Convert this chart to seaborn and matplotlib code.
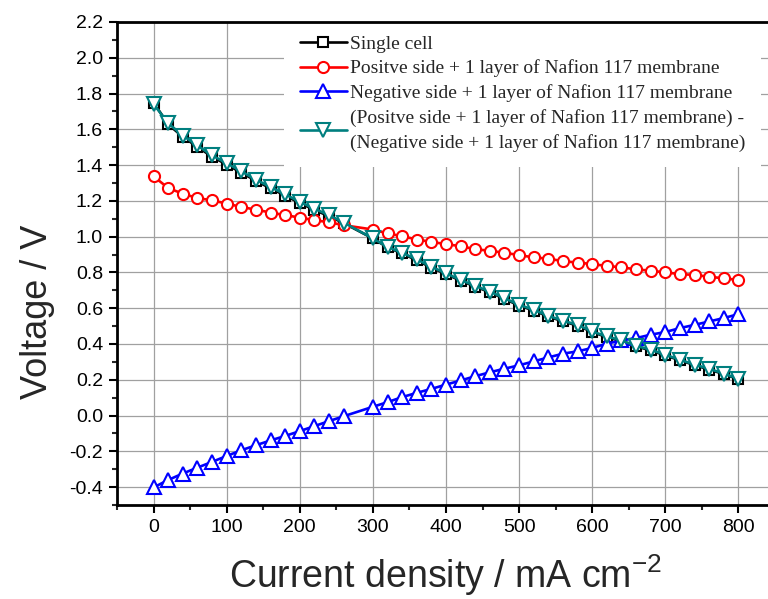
import matplotlib
matplotlib.use("Agg")
import matplotlib.pyplot as plt
import seaborn as sns
import pandas as pd
from matplotlib.ticker import MultipleLocator, FormatStrFormatter
from matplotlib import font_manager

# ---------------- data ----------------
current = [0, 20, 40, 60, 80, 100, 120, 140, 160, 180, 200, 220, 240, 260,
           300, 320, 340, 360, 380, 400, 420, 440, 460, 480, 500, 520, 540, 560,
           580, 600, 620, 640, 660, 680, 700, 720, 740, 760, 780, 800]

single_cell = [1.750, 1.628, 1.558, 1.502, 1.447, 1.403, 1.358, 1.312, 1.270, 1.230,
               1.188, 1.150, 1.114, 1.076, 0.990, 0.940, 0.906, 0.868, 0.827, 0.791,
               0.754, 0.721, 0.689, 0.652, 0.615, 0.587, 0.554, 0.526, 0.503, 0.467,
               0.438, 0.416, 0.387, 0.364, 0.336, 0.309, 0.282, 0.257, 0.232, 0.203]

positive_side = [1.337, 1.272, 1.240, 1.216, 1.203, 1.185, 1.166, 1.151, 1.135, 1.120,
                 1.107, 1.092, 1.081, 1.064, 1.040, 1.018, 1.003, 0.984, 0.971, 0.958,
                 0.947, 0.930, 0.921, 0.910, 0.897, 0.884, 0.877, 0.863, 0.855, 0.847,
                 0.836, 0.829, 0.817, 0.810, 0.800, 0.791, 0.786, 0.776, 0.767, 0.758]

negative_side = [-0.402, -0.360, -0.324, -0.291, -0.259, -0.226, -0.194, -0.166, -0.139, -0.114,
                 -0.087, -0.059, -0.031, -0.004, 0.049, 0.075, 0.103, 0.127, 0.149, 0.173,
                 0.196, 0.220, 0.242, 0.262, 0.281, 0.303, 0.325, 0.346, 0.359, 0.378,
                 0.402, 0.420, 0.433, 0.452, 0.467, 0.489, 0.507, 0.526, 0.545, 0.567]

difference = [1.742, 1.634, 1.565, 1.510, 1.454, 1.411, 1.365, 1.319, 1.277, 1.237,
              1.194, 1.157, 1.120, 1.079, 0.990, 0.943, 0.910, 0.873, 0.832, 0.795,
              0.758, 0.725, 0.693, 0.656, 0.619, 0.591, 0.558, 0.530, 0.507, 0.470,
              0.442, 0.420, 0.390, 0.368, 0.340, 0.312, 0.285, 0.261, 0.235, 0.205]

labels = ["Single cell",
          "Positve side + 1 layer of Nafion 117 membrane",
          "Negative side + 1 layer of Nafion 117 membrane",
          "(Positve side + 1 layer of Nafion 117 membrane) -\n(Negative side + 1 layer of Nafion 117 membrane)"]
colors = ["#000000", "#ff0000", "#0000ff", "#007f7f"]
markers = ["s", "o", "^", "v"]
msizes = [7, 8, 9.5, 9.5]
series = [single_cell, positive_side, negative_side, difference]

x_ticks = [0, 100, 200, 300, 400, 500, 600, 700, 800]

# ---------------- style ----------------
sns.set_style("white")
names = {f.name for f in font_manager.fontManager.ttflist}
sans = "Liberation Sans Narrow" if "Liberation Sans Narrow" in names else "Liberation Sans"
plt.rcParams["font.family"] = [sans, "DejaVu Sans"]
plt.rcParams["axes.unicode_minus"] = False
plt.rcParams["mathtext.fontset"] = "custom"
plt.rcParams["mathtext.rm"] = sans
plt.rcParams["mathtext.default"] = "regular"

fig = plt.figure(figsize=(7.68, 5.99), dpi=100)
ax = fig.add_axes([117 / 768, 94 / 599, 658 / 768, 483 / 599])

for vals, lab, col, mk, ms in zip(series, labels, colors, markers, msizes):
    df = pd.DataFrame({"x": current, "y": vals})
    sns.lineplot(data=df, x="x", y="y", ax=ax, color=col, marker=mk,
                 markersize=ms, markerfacecolor="white", markeredgecolor=col,
                 markeredgewidth=1.5, linewidth=1.9, label=lab, sort=False)

ax.set_xlim(-50, 850)
ax.set_ylim(-0.5, 2.2)
ax.set_xticks(x_ticks)
ax.xaxis.set_minor_locator(MultipleLocator(50))
ax.yaxis.set_major_locator(MultipleLocator(0.2))
ax.yaxis.set_minor_locator(MultipleLocator(0.1))
ax.yaxis.set_major_formatter(FormatStrFormatter("%.1f"))

ax.grid(True, which="major", color="#a0a0a0", linewidth=0.9)
ax.set_axisbelow(True)

for s in ["left", "bottom", "top", "right"]:
    ax.spines[s].set_linewidth(2.0)
    ax.spines[s].set_color("black")
    ax.spines[s].set_zorder(6)

ax.tick_params(axis="both", which="major", direction="out", length=6, width=1.5,
               labelsize=14, colors="black", bottom=True, left=True, pad=4)
ax.tick_params(axis="both", which="minor", direction="out", length=3.5, width=1.5,
               bottom=True, left=True)

ax.set_xlabel("Current density / mA cm$^{\\mathregular{-2}}$", fontsize=27, labelpad=12)
ax.set_ylabel("Voltage / V", fontsize=26)
ax.yaxis.set_label_coords(-0.094, 0.40)

leg = ax.legend(loc="upper left", bbox_to_anchor=(0.2545, 1.005), borderaxespad=0,
                frameon=True, facecolor="white", edgecolor="none", framealpha=1,
                fancybox=False, borderpad=0.8, handlelength=2.4, handletextpad=0.15,
                labelspacing=0.35, prop={"family": "Liberation Serif", "size": 14})
for t in leg.get_texts():
    t.set_linespacing(1.5)

fig.savefig("out.png", dpi=100)
